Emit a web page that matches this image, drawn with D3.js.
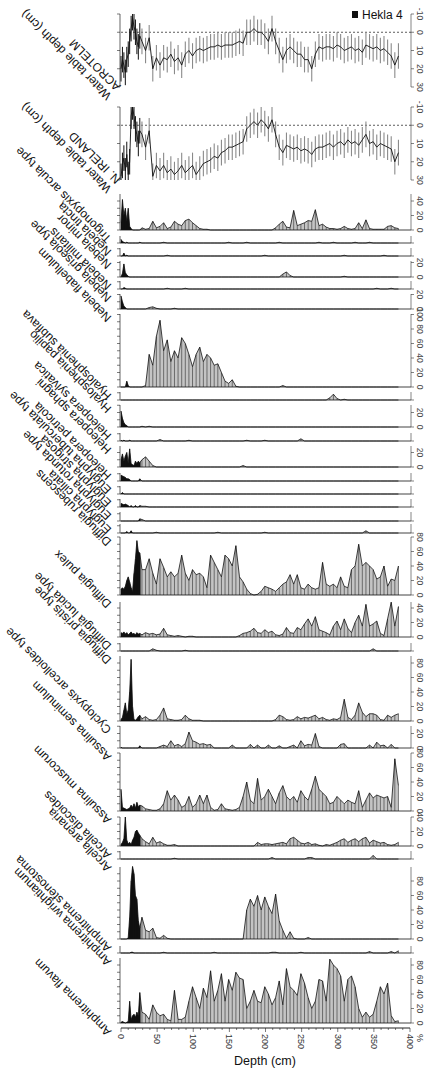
<!DOCTYPE html>
<html>
<head>
<meta charset="utf-8">
<script src="https://cdn.jsdelivr.net/npm/d3@7.9.0/dist/d3.min.js"></script>
<style>
  body { margin: 0; background: #fff; }
  svg { font-family: "Liberation Sans", Arial, sans-serif; }
</style>
</head>
<body>
<svg id="chart" width="425" height="1070"></svg>
<script>
// sample depths (cm)
const depths = [0,2,4,6,8,10,12,14,16,18,20,22,24,26,
  29,34,39,44,49,54,59,64,69,74,79,84,89,94,99,104,109,114,119,124,
  129,134,139,144,149,154,159,164,169,174,179,184,189,194,199,204,209,214,219,224,
  229,234,239,244,249,254,259,264,269,274,279,284,289,294,299,304,309,314,319,324,
  329,334,339,344,349,354,359,364,369,374,379,384];

// water table reconstructions (cm)
const wtAcrotelm = [20,15,18,22,15,12,5,-2,-8,-3,0,5,8,2,
  5,10,3,20,14,18,14,15,12,16, 14,18,12,10,13,10,9,10,9,8,
  8,7,8,7,7,7,6,5,6,0, 0,-2,0,0,2,5,-2,5,10,15,
  10,8,10,12,12,15,15,20,12,8, 9,8,8,9,7,8,10,9,8,10,
  9,11,7,8,9,8,10,9,11,13, 18,13];
const wtIreland = [28,22,18,25,16,27,20,-5,-10,-5,2,5,10,3,
  5,12,3,28,22,25,22,26,24,27, 25,22,26,24,22,27,24,21,20,19,
  17,18,15,14,12,12,11,10,9,2, 0,-2,0,-3,-1,2,-3,5,12,15,
  11,12,13,12,14,13,14,16,13,12, 12,11,10,12,10,9,11,8,10,9,
  11,8,5,10,9,12,10,11,12,13, 20,15];
const wtError = 7;

// taxa percentages, [depth, %] (absent samples = 0)
const trigonopyxis = [[0,10],[2,42],[4,20],[6,30],[8,12],[10,30],[12,5],[14,2],
  [29,3],[34,1],[39,2],[44,12],[49,3],[54,5],[59,10],[64,2],[69,4],[74,12],[79,8],[84,6],[89,13],[94,15],[99,10],[104,6],[109,2],[114,1],[119,1],
  [214,3],[219,8],[224,12],[229,4],[234,3],[239,27],[244,6],[249,8],[254,10],[259,13],[264,12],[269,28],[274,6],[279,8],[284,4],[289,2],[294,2],[299,1],[304,2],[309,5],[314,2],[319,1],[324,2],[329,10],[334,2],[339,14],[344,2],[349,1],[354,1],[359,1],[364,1],[369,5],[374,6],[379,3],[384,2]];
const nebTincta = [[0,5],[2,2],[4,1],[8,1],[26,1],[59,1],[149,1],[174,1],[219,1],[274,1],[294,1],[324,1],[344,1]];
const nebMinor = [[4,4],[8,1],[64,1],[199,1],[309,1],[364,1]];
const nebMilitaris = [[2,5],[4,18],[6,6],[8,3],[10,1],[224,4],[229,7],[234,2],[309,1]];
const nebGriseola = [[4,2],[6,1],[64,1],[89,1],[354,1],[374,1]];
const nebFlabellulum = [[0,18],[2,10],[4,4],[6,2],[39,2],[44,3],[49,1],[74,1]];
const hyaSubflava = [[8,8],[10,2],[34,2],[39,45],[44,30],[49,70],[54,92],[59,50],[64,65],[69,35],[74,50],[79,40],[84,68],[89,60],[94,45],[99,28],[104,45],[109,55],[114,35],[119,45],[124,40],[129,30],[134,32],[139,20],[144,8],[149,5],[154,10],[159,1],[224,2]];
const hyaPapilio = [[289,3],[294,8],[299,2],[309,1]];
const helSylvatica = [[0,22],[2,12],[4,6],[6,3],[8,2],[29,1],[39,1]];
const helSphagni = [[0,1],[4,1],[12,1],[54,2],[94,1],[174,1],[199,1],[249,3]];
const helPetricola = [[0,10],[2,18],[4,8],[6,15],[8,20],[10,5],[12,25],[14,5],[16,3],[18,2],[20,8],[22,5],[24,8],[26,6],[29,10],[34,14],[39,8],[44,2],[169,2]];
const eugTuberculata = [[0,8],[2,7],[4,6],[6,5],[8,3],[10,3],[12,2],[26,3]];
const eugStrigosa = [[2,2]];
const eugRotunda = [[0,5],[2,4],[4,3],[6,4],[8,3],[10,2],[14,2],[20,2],[26,2],[29,1],[34,1]];
const eugCiliata = [[26,3],[29,2]];
const difRubescens = [[8,2],[14,3],[49,1],[134,1],[199,1],[339,3]];
const difPulex = [[0,8],[2,10],[4,8],[6,12],[8,20],[10,25],[12,18],[14,10],[16,5],[18,30],[20,50],[22,75],[24,60],[26,58],
  [29,35],[34,35],[39,50],[44,30],[49,15],[54,50],[59,38],[64,25],[69,32],[74,25],[79,30],[84,55],[89,30],[94,20],[99,35],[104,28],[109,30],[114,25],[119,10],[124,55],[129,45],[134,35],[139,25],[144,55],[149,50],[154,40],[159,68],[164,25],[169,18],[174,8],[179,2],[189,1],[194,5],[199,12],[204,10],[209,8],[214,5],[219,10],[224,15],[229,18],[234,28],[239,15],[244,28],[249,10],[254,8],[259,15],[264,10],[269,8],[274,10],[279,45],[284,15],[289,12],[294,15],[299,10],[304,25],[309,12],[314,10],[319,35],[324,40],[329,70],[334,40],[339,45],[344,40],[349,35],[354,22],[359,25],[364,40],[369,12],[374,22],[379,20],[384,40]];
const difLucida = [[0,6],[2,5],[4,7],[6,4],[8,6],[10,3],[12,5],[14,7],[16,4],[18,5],[20,3],[22,6],[24,4],[26,5],
  [29,3],[34,6],[39,4],[44,5],[49,3],[54,4],[59,12],[64,3],[69,2],[74,1],[79,2],[84,1],[94,1],[99,1],[164,2],[169,5],[174,6],[179,8],[184,12],[189,6],[194,5],[199,10],[204,6],[209,8],[214,3],[219,2],[224,4],[229,13],[234,6],[239,5],[244,13],[249,10],[254,18],[259,25],[264,15],[269,28],[274,10],[279,8],[284,6],[289,3],[294,15],[299,22],[304,10],[309,25],[314,12],[319,6],[324,20],[329,30],[334,15],[339,45],[344,15],[349,18],[354,22],[359,5],[364,2],[369,25],[374,48],[379,15],[384,42]];
const difPristis = [[44,3],[49,1],[89,1],[349,3]];
const cycArcelloides = [[0,2],[2,5],[4,15],[6,25],[8,10],[10,15],[12,40],[14,85],[16,20],[18,2],[20,1],[22,3],[24,6],[26,8],
  [29,3],[34,6],[39,2],[44,1],[49,2],[54,8],[59,18],[64,3],[69,2],[74,1],[79,1],[84,2],[89,8],[94,3],[99,1],[104,1],[109,1],[214,2],[219,8],[224,6],[229,2],[234,1],[239,2],[244,6],[249,3],[254,5],[259,4],[264,6],[269,8],[274,3],[279,5],[284,2],[289,1],[294,3],[299,2],[304,5],[309,30],[314,5],[319,2],[324,8],[329,25],[334,12],[339,6],[344,10],[349,10],[354,8],[359,2],[364,1],[369,8],[374,5],[379,8],[384,10]];
const assSeminulum = [[0,1],[26,3],[54,2],[59,4],[64,2],[69,10],[74,3],[79,5],[84,2],[89,6],[94,22],[99,10],[104,8],[109,5],[114,6],[119,4],[124,5],[154,4],[179,5],[189,4],[204,4],[219,3],[234,2],[239,4],[249,10],[254,3],[259,5],[264,4],[269,20],[274,2],[304,5],[309,6],[344,4],[354,8],[359,3],[364,4],[374,5]];
const assMuscorum = [[0,30],[2,5],[4,4],[6,3],[8,2],[10,3],[12,4],[14,8],[16,5],[18,10],[20,4],[22,12],[24,6],[26,8],[29,7],[34,3],[39,2],
  [44,1],[49,1],[54,3],[59,10],[64,28],[69,15],[74,22],[79,15],[84,5],[89,8],[94,20],[99,5],[104,10],[109,22],[114,10],[119,22],[124,5],[129,1],[134,2],[139,10],[144,3],[149,2],[154,1],[159,2],[164,5],[169,20],[174,40],[179,15],[184,10],[189,45],[194,15],[199,20],[204,30],[209,20],[214,10],[219,25],[224,35],[229,20],[234,15],[239,20],[244,12],[249,28],[254,20],[259,15],[264,30],[269,48],[274,30],[279,25],[284,20],[289,10],[294,12],[299,20],[304,15],[309,10],[314,15],[319,12],[324,10],[329,28],[334,5],[339,15],[344,25],[349,18],[354,22],[359,20],[364,18],[369,20],[374,5],[379,72],[384,35]];
const arcDiscoides = [[0,2],[2,5],[4,10],[6,40],[8,8],[10,3],[12,5],[14,2],[16,8],[18,12],[20,20],[22,22],[24,18],[26,15],[29,10],[34,6],[39,3],[44,12],[49,4],[54,6],[59,3],[64,1],[69,1],[74,2],
  [189,5],[194,2],[199,3],[204,3],[209,2],[214,3],[219,4],[224,5],[229,3],[234,10],[239,12],[244,8],[249,4],[254,3],[259,5],[264,2],[269,3],[274,1],[284,2],[289,1],[294,3],[299,5],[304,8],[309,10],[314,5],[319,8],[324,10],[329,6],[334,10],[339,12],[344,4],[349,8],[354,6],[359,4],[364,5],[369,2],[374,1],[379,2],[384,5]];
const arcArenaria = [[74,1],[209,2],[259,2],[264,2],[349,5]];
const ampStenostoma = [[10,2],[12,30],[14,80],[16,100],[18,90],[20,60],[22,55],[24,25],[26,15],[29,30],[34,12],[39,10],[44,15],[49,2],[54,1],[59,5],[64,1],
  [174,40],[179,55],[184,45],[189,60],[194,40],[199,58],[204,45],[209,35],[214,62],[219,25],[224,12],[229,1],[234,10],[239,1],[259,2]];
const ampWrightianum = [[14,1],[16,1],[59,1],[129,1],[209,1],[214,1],[249,1],[344,2],[374,2],[384,3]];
const ampFlavum = [[0,1],[2,2],[4,1],[8,1],[10,2],[12,30],[14,5],[16,10],[18,12],[20,8],[22,15],[24,10],[26,42],
  [29,15],[34,12],[39,5],[44,25],[49,15],[54,10],[59,12],[64,5],[69,3],[74,45],[79,5],[84,5],[89,8],[94,30],[99,50],[104,35],[109,20],[114,48],[119,35],[124,72],[129,30],[134,45],[139,68],[144,30],[149,60],[154,45],[159,70],[164,62],[169,60],[174,20],[179,30],[184,45],[189,30],[194,28],[199,50],[204,40],[209,25],[214,35],[219,58],[224,25],[229,75],[234,50],[239,45],[244,38],[249,68],[254,55],[259,35],[264,20],[269,30],[274,60],[279,58],[284,30],[289,88],[294,80],[299,75],[304,65],[309,30],[314,60],[319,65],[324,50],[329,20],[334,8],[339,15],[344,8],[349,12],[354,30],[359,50],[364,40],[369,55],[374,10],[379,2],[384,3]];

const depthTicks = [0,50,100,150,200,250,300,350,400];
const wtTicks = [-10,0,10,20,30];
const heklaDepth = 27;

// panel layout: [label lines, data, top, bottom]
const taxa = [
  [["Trigonopyxis arcula type"], trigonopyxis, 194, 230],
  [["Nebela tincta"], nebTincta, 236, 243],
  [["Nebela minor"], nebMinor, 248, 256],
  [["Nebela militaris"], nebMilitaris, 261, 277],
  [["Nebela griseola type"], nebGriseola, 281, 289],
  [["Nebela flabellulum"], nebFlabellulum, 294, 309],
  [["Hyalosphenia subflava"], hyaSubflava, 314, 387],
  [["Hyalosphenia papilio"], hyaPapilio, 392, 400],
  [["Heleopera sylvatica"], helSylvatica, 405, 427],
  [["Heleopera sphagni"], helSphagni, 433, 441],
  [["Heleopera petricola"], helPetricola, 446, 467],
  [["Euglypha tuberculata type"], eugTuberculata, 473, 481],
  [["Euglypha strigosa"], eugStrigosa, 486, 494],
  [["Euglypha rotunda type"], eugRotunda, 499, 507],
  [["Euglypha ciliata"], eugCiliata, 512, 521],
  [["Difflugia rubescens"], difRubescens, 524, 533],
  [["Difflugia pulex"], difPulex, 537, 595],
  [["Difflugia lucida type"], difLucida, 602, 637],
  [["Difflugia pristis type"], difPristis, 643, 651],
  [["Cyclopyxis arcelloides type"], cycArcelloides, 656, 721],
  [["Assulina seminulum"], assSeminulum, 726, 748],
  [["Assulina muscorum"], assMuscorum, 753, 811],
  [["Arcella discoides"], arcDiscoides, 817, 846],
  [["Arcella arenaria"], arcArenaria, 851, 859],
  [["Amphitrema stenostoma"], ampStenostoma, 867, 939],
  [["Amphitrema wrightianum"], ampWrightianum, 946, 953],
  [["Amphitrema flavum"], ampFlavum, 958, 1023]
];
const wtPanels = [
  [["Water table depth (cm)", "ACROTELM"], wtAcrotelm, 14, 87],
  [["Water table depth (cm)", "N. IRELAND"], wtIreland, 107, 180]
];

const svg = d3.select('#chart');
const x = d3.scaleLinear().domain([0, 400]).range([121, 410]);
const pxPerPct = 0.725;
const xL = 120, xR = 411;

function panelLabel(lines, bottom) {
  const t = svg.append('text')
    .attr('transform', `translate(112,${bottom + 8}) rotate(225)`)
    .attr('font-size', 12).attr('fill', '#111');
  lines.forEach((s, i) => t.append('tspan').attr('x', 0).attr('dy', i ? '1.1em' : 0).text(s));
}

function rightAxis(y, ticks) {
  const g = svg.append('g');
  g.append('line').attr('x1', xR).attr('x2', xR)
    .attr('y1', y.range()[0]).attr('y2', y.range()[1]).attr('stroke', '#333').attr('stroke-width', 0.6);
  ticks.forEach(v => {
    g.append('line').attr('x1', xR).attr('x2', xR + 3).attr('y1', y(v)).attr('y2', y(v))
      .attr('stroke', '#333').attr('stroke-width', 0.6);
    g.append('text').attr('transform', `translate(${xR + 6},${y(v)}) rotate(90)`)
      .attr('text-anchor', 'middle').attr('font-size', 8.5).attr('fill', '#444').text(v);
  });
  if (!ticks.length) {
    g.append('line').attr('x1', xR).attr('x2', xR + 3).attr('y1', y.range()[0]).attr('y2', y.range()[0])
      .attr('stroke', '#333').attr('stroke-width', 0.6);
  }
}

function leftAxis(y, ticks) {
  const g = svg.append('g');
  g.append('line').attr('x1', xL).attr('x2', xL)
    .attr('y1', y.range()[0]).attr('y2', y.range()[1]).attr('stroke', '#222').attr('stroke-width', 0.7);
  ticks.forEach(v => g.append('line').attr('x1', xL - 3).attr('x2', xL).attr('y1', y(v)).attr('y2', y(v))
    .attr('stroke', '#222').attr('stroke-width', 0.6));
}

svg.append('defs').append('clipPath').attr('id', 'hekla')
  .append('rect').attr('x', 0).attr('y', 0).attr('width', x(heklaDepth)).attr('height', 1070);

// water table panels
wtPanels.forEach(([lines, vals, top, bottom]) => {
  const y = d3.scaleLinear().domain([-10, 30]).range([top, bottom]);
  const rows = depths.map((d, i) => ({ d, v: vals[i] }));
  svg.append('line').attr('x1', x(0)).attr('x2', xR).attr('y1', y(0)).attr('y2', y(0))
    .attr('stroke', '#333').attr('stroke-dasharray', '2,2').attr('stroke-width', 0.8);
  svg.append('g').selectAll('line').data(rows).join('line')
    .attr('x1', r => x(r.d)).attr('x2', r => x(r.d))
    .attr('y1', r => y(Math.max(-10, r.v - wtError))).attr('y2', r => y(Math.min(30, r.v + wtError)))
    .attr('stroke', r => r.d < heklaDepth ? '#111' : '#8a8a8a').attr('stroke-width', r => r.d < heklaDepth ? 1 : 1.1);
  svg.append('path').datum(rows)
    .attr('d', d3.line().x(r => x(r.d)).y(r => y(r.v)))
    .attr('fill', 'none').attr('stroke', '#111').attr('stroke-width', 0.9);
  leftAxis(y, wtTicks);
  rightAxis(y, wtTicks);
  panelLabel(lines, bottom);
});

// taxa panels
taxa.forEach(([lines, pairs, top, bottom]) => {
  const vmap = new Map(pairs);
  const rows = depths.map(d => ({ d, v: vmap.get(d) || 0 }));
  const max = (bottom - top) / pxPerPct;
  const y = d3.scaleLinear().domain([0, max]).range([bottom, top]);
  const area = d3.area().x(r => x(r.d)).y0(y(0)).y1(r => y(r.v));
  const g = svg.append('g');
  g.append('path').datum(rows).attr('d', area).attr('fill', '#c4c4c4');
  g.append('path').datum(rows).attr('d', area).attr('fill', '#111').attr('clip-path', 'url(#hekla)');
  g.selectAll('line').data(rows.filter(r => r.v > 0)).join('line')
    .attr('x1', r => x(r.d)).attr('x2', r => x(r.d)).attr('y1', y(0)).attr('y2', r => y(r.v))
    .attr('stroke', '#111').attr('stroke-width', 0.5);
  g.append('path').datum(rows).attr('d', d3.line().x(r => x(r.d)).y(r => y(r.v)))
    .attr('fill', 'none').attr('stroke', '#111').attr('stroke-width', 0.8);
  g.append('line').attr('x1', xL).attr('x2', xR).attr('y1', y(0)).attr('y2', y(0))
    .attr('stroke', '#111').attr('stroke-width', 0.8);
  leftAxis(y, d3.range(0, max + 0.01, 10));
  rightAxis(y, max >= 18 ? d3.range(0, max + 0.01, 20) : []);
  panelLabel(lines, bottom);
});

// depth axis
const axY = 1028;
const ax = svg.append('g');
ax.append('line').attr('x1', x(0)).attr('x2', x(400)).attr('y1', axY).attr('y2', axY).attr('stroke', '#222');
d3.range(0, 401, 10).forEach(v => ax.append('line').attr('x1', x(v)).attr('x2', x(v))
  .attr('y1', axY).attr('y2', axY + (v % 50 ? 2 : 4)).attr('stroke', '#222').attr('stroke-width', 0.6));
depthTicks.forEach(v => ax.append('text').attr('transform', `translate(${x(v)},${axY + 6}) rotate(90)`)
  .attr('dy', '0.35em').attr('font-size', 9).attr('fill', '#333').text(v));
ax.append('text').attr('transform', `translate(${x(400) + 10},${axY + 6}) rotate(90)`)
  .attr('dy', '0.35em').attr('font-size', 9).attr('fill', '#333').text('%');
ax.append('text').attr('x', 265).attr('y', 1065).attr('text-anchor', 'middle')
  .attr('font-size', 12.5).attr('fill', '#111').text('Depth (cm)');

// legend
svg.append('rect').attr('x', 352).attr('y', 11).attr('width', 6).attr('height', 7).attr('fill', '#111');
svg.append('text').attr('x', 362).attr('y', 18.5).attr('font-size', 12).attr('fill', '#111').text('Hekla 4');
</script>
</body>
</html>
